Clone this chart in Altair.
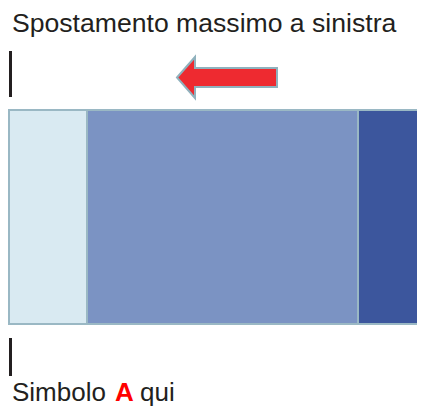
import altair as alt
import pandas as pd

# Bar segments (horizontal positions in diagram units)
seg_names = ["chiaro", "medio", "scuro"]
seg_start = [1, 79, 350]
seg_end = [79, 350, 430]
seg_colors = ["#d9eaf2", "#7b93c3", "#3c569d"]
bar_top = [102, 102, 102]
bar_bottom = [316, 316, 316]

# Marker lines
mark_x = [2.5, 2.5]
mark_y1 = [43, 330]
mark_y2 = [89, 368]

# Texts
title_text = ["Spostamento massimo a sinistra"]
label_parts = ["Simbolo", "A", "qui"]
label_x = [4, 107, 132]
label_colors = ["#231f20", "#ff0000", "#231f20"]
label_weights = ["normal", "bold", "normal"]

# Arrow (pointing left)
arrow_x = [219]
arrow_y = [69.5]
arrow_path = "M -1 0 L -0.64 -0.41 L -0.64 -0.19 L 1 -0.19 L 1 0.19 L -0.64 0.19 L -0.64 0.41 Z"

W, H = 409, 400
xs = alt.Scale(domain=[0, W])
ys = alt.Scale(domain=[0, H], reverse=True)

bars_df = pd.DataFrame({"seg": seg_names, "x1": seg_start, "x2": seg_end,
                        "y1": bar_top, "y2": bar_bottom})
bars = alt.Chart(bars_df).mark_rect(stroke="#9ab8c4", strokeWidth=2, clip=True).encode(
    x=alt.X("x1:Q", scale=xs, axis=None),
    x2="x2:Q",
    y=alt.Y("y1:Q", scale=ys, axis=None),
    y2="y2:Q",
    color=alt.Color("seg:N", scale=alt.Scale(domain=seg_names, range=seg_colors), legend=None),
)

marks_df = pd.DataFrame({"x": mark_x, "y1": mark_y1, "y2": mark_y2})
markers = alt.Chart(marks_df).mark_rule(color="#231f20", strokeWidth=3).encode(
    x=alt.X("x:Q", scale=xs, axis=None),
    y=alt.Y("y1:Q", scale=ys, axis=None),
    y2="y2:Q",
)

title_df = pd.DataFrame({"t": title_text, "x": [4], "y": [24]})
title = alt.Chart(title_df).mark_text(
    align="left", baseline="alphabetic", font="Liberation Sans", fontSize=26.6, color="#231f20"
).encode(x=alt.X("x:Q", scale=xs, axis=None), y=alt.Y("y:Q", scale=ys, axis=None), text="t:N")

lab_df = pd.DataFrame({"t": label_parts, "x": label_x, "y": [393] * 3,
                       "c": label_colors, "w": label_weights})
labels = []
for i in range(3):
    labels.append(
        alt.Chart(lab_df.iloc[[i]]).mark_text(
            align="left", baseline="alphabetic", font="Liberation Sans", fontSize=26,
            color=label_colors[i], fontWeight=label_weights[i]
        ).encode(x=alt.X("x:Q", scale=xs, axis=None), y=alt.Y("y:Q", scale=ys, axis=None), text="t:N")
    )

arrow_df = pd.DataFrame({"x": arrow_x, "y": arrow_y})
arrow = alt.Chart(arrow_df).mark_point(
    shape=arrow_path, size=10000, filled=True, fill="#ee2a30", fillOpacity=1,
    stroke="#8fb1bd", strokeWidth=2, opacity=1
).encode(x=alt.X("x:Q", scale=xs, axis=None), y=alt.Y("y:Q", scale=ys, axis=None))

chart = alt.layer(bars, markers, title, *labels, arrow).properties(
    width=W, height=H,
    autosize=alt.AutoSizeParams(type="none"),
    padding=0,
).configure_view(stroke=None)

chart.save("out.html", embed_options={"renderer": "svg", "actions": False})
